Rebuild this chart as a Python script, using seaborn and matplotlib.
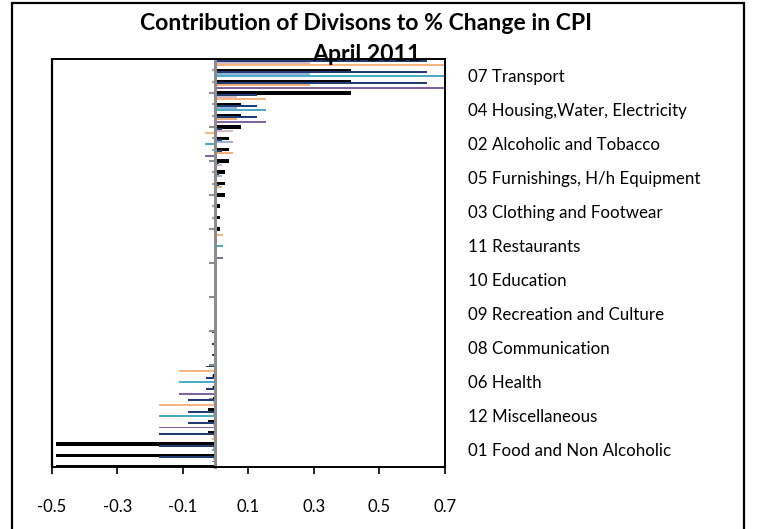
import numpy as np
import pandas as pd
import matplotlib
matplotlib.use("Agg")
import matplotlib.pyplot as plt
import seaborn as sns

# ---------------- data ----------------
categories = ["07 Transport", "04 Housing,Water, Electricity", "02 Alcoholic and Tobacco",
              "05 Furnishings, H/h Equipment", "03 Clothing and Footwear", "11 Restaurants",
              "10 Education", "09 Recreation and Culture", "08 Communication", "06 Health",
              "12 Miscellaneous", "01 Food and Non Alcoholic"]
black_vals = [0.414, 0.077, 0.040, 0.028, 0.015, 0.0, 0.0, 0.0, 0.0, -0.006, -0.024, -0.487]
navy_vals = [0.646, 0.126, 0.019, 0.011, 0.0, 0.0, 0.0, 0.0, -0.010, -0.030, -0.084, -0.172]
light_vals = [0.290, 0.066, 0.053, 0.020, 0.0, 0.0, 0.0, 0.0, 0.0, 0.0, -0.009, -0.009]
accent_vals = [0.720, 0.153, -0.032, 0.005, 0.0, 0.022, 0.0, 0.0, 0.0, -0.111, -0.172, -0.010]
x_ticks = [-0.5, -0.3, -0.1, 0.1, 0.3, 0.5, 0.7]
x_labels = ["-0.5", "-0.3", "-0.1", "0.1", "0.3", "0.5", "0.7"]

# ---------------- styling ----------------
sns.set_style("white")
plt.rcParams["font.family"] = ["Lato", "DejaVu Sans"]
plt.rcParams["text.color"] = "black"
plt.rcParams["xtick.labelcolor"] = "black"
plt.rcParams["ytick.labelcolor"] = "black"

W, H = 757, 529
fig = plt.figure(figsize=(W / 100, H / 100), dpi=100)
L, R, T, B = 51.7, 444.7, 59.0, 466.7
ax = fig.add_axes([L / W, 1 - B / H, (R - L) / W, (B - T) / H])

navy_c = "#1F3C75"
light_cols = ["#D9B8C8", "#95B3D7", "#F4AE7A"]
accent_cols = ["#F8B482", "#4BACC6", "#8064A2"]

n = len(categories)
sub = 3
rows = []
for c in range(n):
    for j in range(sub):
        s = c * sub + j
        rows.append(dict(series="black", j=j, pos=s + 1.0, value=black_vals[c]))
        rows.append(dict(series="navy", j=j, pos=s + 0.15, value=navy_vals[c]))
        rows.append(dict(series="light", j=j, pos=s + 0.32, value=light_vals[c]))
        rows.append(dict(series="accent", j=j, pos=s + 0.54, value=accent_vals[c]))
df = pd.DataFrame(rows)

thick = 0.31
thin = 0.17

def draw(d, color, height, spacing):
    sns.barplot(data=d, x="value", y="pos", orient="h", native_scale=True,
                color=color, width=height / spacing, errorbar=None,
                saturation=1, linewidth=0, ax=ax)

draw(df[df.series == "black"], "black", thick, 1.0)
draw(df[df.series == "navy"], navy_c, thin, 1.0)
for j in range(sub):
    draw(df[(df.series == "light") & (df.j == j)], light_cols[j], thin, 3.0)
    draw(df[(df.series == "accent") & (df.j == j)], accent_cols[j], thin, 3.0)

ax.set_xlim(-0.5, 0.7)
ax.set_ylim(n * sub, 0)
ax.set_xlabel("")
ax.set_ylabel("")

# spines / frame
for sp in ["top", "right", "bottom"]:
    ax.spines[sp].set_visible(True)
    ax.spines[sp].set_color("black")
    ax.spines[sp].set_linewidth(1.4)
ax.spines["left"].set_position(("data", 0))
ax.spines["left"].set_color("#8C8C8C")
ax.spines["left"].set_linewidth(2.2)
ax.plot([0, 0], [0, 1], transform=ax.transAxes, color="black", lw=1.6, clip_on=False)

# x ticks
ax.set_xticks(x_ticks)
ax.set_xticklabels(x_labels)
ax.tick_params(axis="x", direction="out", length=5, width=1.2, color="black",
               bottom=True, pad=18.5, labelsize=12, labelcolor="black")

# y ticks on zero axis: category boundaries (major) and black bar marks (minor)
ax.set_yticks(np.arange(0, n * sub + 1, sub))
minor_pos = [r.pos for r in df[df.series == "black"].itertuples() if r.value != 0]
ax.set_yticks(minor_pos, minor=True)
ax.tick_params(axis="y", which="major", left=True, length=4.5, width=1.5,
               color="#8C8C8C", labelleft=False)
ax.tick_params(axis="y", which="minor", left=True, length=2, width=1.5,
               color="#A0A0A0", labelleft=False)

# category labels on the right
ax2 = ax.twinx()
ax2.set_ylim(n * sub, 0)
ax2.set_yticks(np.arange(n) * sub + sub / 2)
ax2.set_yticklabels(categories)
ax2.tick_params(axis="y", length=0, pad=17, labelsize=12.2, labelcolor="black")
for sp in ax2.spines.values():
    sp.set_visible(False)

# title
fig.text(366 / W, 1 - 30 / H, "Contribution of Divisons to % Change in CPI",
         ha="center", va="baseline", fontsize=16.6, fontweight="bold", color="black")
fig.text(366 / W, 1 - 61 / H, "April 2011", ha="center", va="baseline",
         fontsize=16.6, fontweight="bold", color="black")

# outer chart border
fig.patches.append(plt.Rectangle((12 / W, -0.02), (744 - 12) / W, 1.02 - 3 / H,
                                 transform=fig.transFigure, fill=False,
                                 edgecolor="black", lw=1.6))

fig.savefig("out.png", dpi=100)
